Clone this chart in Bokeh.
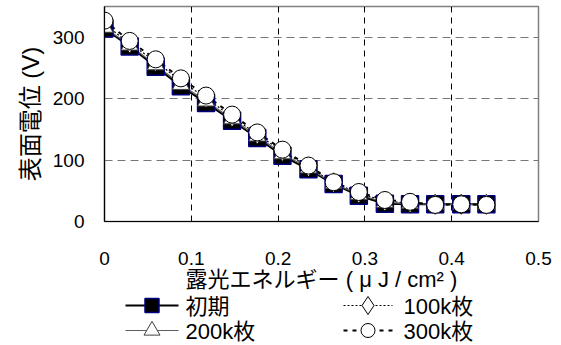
from bokeh.plotting import figure
from bokeh.models import Range1d, FixedTicker
from bokeh.layouts import column
from bokeh.core.properties import value
from bokeh.embed import file_html
from bokeh.resources import INLINE

# ---- data ----
energy = [0, 0.029, 0.059, 0.088, 0.117, 0.147, 0.176, 0.205, 0.235, 0.264,
          0.293, 0.323, 0.352, 0.381, 0.411, 0.44]
initial = [314, 285, 252, 220, 193, 164, 136, 107, 85, 61, 42, 29, 28, 28, 28, 28]
k100 = [321, 290, 260, 229, 201, 170, 142, 114, 89, 63, 46, 33, 30, 28, 28, 28]
k200 = [316, 287, 255, 223, 196, 167, 139, 110, 87, 62, 44, 31, 29, 28, 28, 28]
k300 = [327, 294, 264, 233, 205, 174, 145, 117, 91, 64, 48, 35, 32, 27, 28, 27]

series_names = ["初期", "100k枚", "200k枚", "300k枚"]
x_ticks = [0, 0.1, 0.2, 0.3, 0.4, 0.5]
x_tick_labels = ["0", "0.1", "0.2", "0.3", "0.4", "0.5"]
y_ticks = [0, 100, 200, 300]
x_title = "露光エネルギー ( μ J / cm² )"
y_title = "表面電位 (V)"

FONT = "Liberation Sans, Noto Sans CJK JP"
W = 561
MAIN_H = 295
LEG_H = 345 - MAIN_H
BL, BR = 104, 23

p = figure(width=W, height=MAIN_H, output_backend="svg", toolbar_location=None,
           x_range=Range1d(0, 0.5), y_range=Range1d(0, 350),
           min_border_left=BL, min_border_right=BR, min_border_top=6,
           min_border_bottom=MAIN_H - 221)
p.background_fill_color = "white"
p.border_fill_color = "white"
p.outline_line_color = "#808080"
p.outline_line_width = 1.5

# axes
p.xaxis.ticker = FixedTicker(ticks=x_ticks)
p.xaxis.major_label_overrides = {t: l for t, l in zip(x_ticks, x_tick_labels)}
p.yaxis.ticker = FixedTicker(ticks=y_ticks)
for ax in (p.xaxis[0], p.yaxis[0]):
    ax.major_tick_line_color = None
    ax.minor_tick_line_color = None
    ax.major_tick_out = 0
    ax.major_tick_in = 0
    ax.axis_line_color = "black"
    ax.axis_line_width = 1.2
    ax.major_label_text_font = FONT
    ax.major_label_text_font_size = "19px"
    ax.major_label_text_color = "black"
    ax.axis_label_text_font = FONT
    ax.axis_label_text_font_style = "normal"
    ax.axis_label_text_color = "black"
p.xaxis.axis_label = x_title
p.yaxis.axis_label = y_title
p.xaxis.axis_label_text_font_size = "22px"
p.yaxis.axis_label_text_font_size = "24px"
p.xaxis.major_label_standoff = 30
p.xaxis.axis_label_standoff = -1
p.yaxis.major_label_standoff = 20
p.yaxis.axis_label_standoff = 6

# grids
p.xgrid.ticker = FixedTicker(ticks=x_ticks[1:-1])
p.xgrid.grid_line_color = "black"
p.xgrid.grid_line_dash = "6 5"
p.xgrid.grid_line_width = 1
p.ygrid.ticker = FixedTicker(ticks=y_ticks[1:])
p.ygrid.grid_line_color = "#777777"
p.ygrid.grid_line_dash = "8 5"
p.ygrid.grid_line_width = 1.2

MS = 17
styles = [
    dict(line=dict(line_color="black", line_width=2),
         mk=dict(marker="square", fill_color="black", line_color="#000080", line_width=1.5), ms=MS, lms=14),
    dict(line=dict(line_color="black", line_width=1.2, line_dash="2 2"),
         mk=dict(marker="diamond", fill_color="white", line_color="black", line_width=1), ms=MS + 3, lms=18),
    dict(line=dict(line_color="#606060", line_width=1.2),
         mk=dict(marker="triangle", fill_color="white", line_color="#404040", line_width=1), ms=MS, lms=16),
    dict(line=dict(line_color="black", line_width=2, line_dash="4 5"),
         mk=dict(marker="circle", fill_color="white", line_color="black", line_width=1), ms=MS, lms=14),
]
series = [initial, k100, k200, k300]

for ys, st in zip(series, styles):
    p.line(energy, ys, **st["line"])
for ys, st in zip(series, styles):
    p.scatter(energy, ys, size=st["ms"], **st["mk"])

# ---- legend strip (screen-pixel layout, frame aligned with the main plot) ----
lg = figure(width=W, height=LEG_H, output_backend="svg", toolbar_location=None,
            x_range=Range1d(BL, W - BR), y_range=Range1d(LEG_H, 0),
            x_axis_type=None, y_axis_type=None,
            min_border_left=BL, min_border_right=BR,
            min_border_top=0, min_border_bottom=0)
lg.grid.visible = False
lg.outline_line_color = None
lg.background_fill_color = "white"
lg.border_fill_color = "white"

# layout slots: (line start, line end, text x, row y) for each series
r1, r2 = 305 - MAIN_H, 330 - MAIN_H
slots = [(125, 178, 185, r1), (343, 392, 403, r1), (125, 178, 185, r2), (343, 392, 403, r2)]
for name, st, (x0, x1, tx, ry) in zip(series_names, styles, slots):
    lg.line([x0, x1], [ry, ry], **st["line"])
    lg.scatter([(x0 + x1) / 2], [ry], size=st["lms"], **st["mk"])
    lg.text([tx], [ry + 1], text=[name], text_font=value(FONT), text_font_size="22px",
            text_baseline="middle", text_align="left", text_color="black")

layout = column(p, lg, spacing=0)
open("out.html", "w").write(file_html(layout, INLINE))
